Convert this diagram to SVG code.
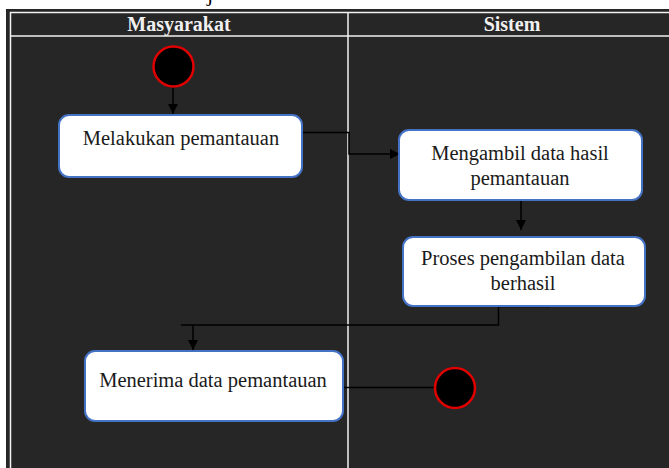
<svg xmlns="http://www.w3.org/2000/svg" width="669" height="468" viewBox="0 0 669 468">
<defs>
<style>
.lane{fill:none;stroke:#f2f2f2;stroke-width:1.5}
.hdr{font-family:"Liberation Serif","Times New Roman",serif;font-weight:bold;font-size:20px;fill:#f0f0f0;text-anchor:middle}
.box{fill:#ffffff;stroke:#4472c4;stroke-width:2}
.lbl{font-family:"Liberation Serif","Times New Roman",serif;font-size:20.5px;fill:#1a1a1a;text-anchor:middle}
.circ{fill:#000000;stroke:#e00000;stroke-width:2.5}
.conn{fill:none;stroke:#000000;stroke-width:1.5}
</style>
<marker id="arr" viewBox="0 0 10 10" refX="10" refY="5" markerWidth="10" markerHeight="10" markerUnits="userSpaceOnUse" orient="auto">
<path d="M0,0 L10,5 L0,10 z" fill="#000000"/>
</marker>
</defs>
<rect x="0" y="0" width="669" height="468" fill="#ffffff"/>
<text x="207" y="1" style="font-family:'Liberation Serif',serif;font-size:22px;fill:#000">j</text>
<rect x="6" y="9" width="663" height="459" fill="#262626"/>
<g id="lanes">
<path class="lane" d="M10.5,468 V12.5 H669"/>
<path class="lane" d="M10.5,36 H669"/>
<path class="lane" d="M348,12.5 V468"/>
<text class="hdr" x="179" y="31">Masyarakat</text>
<text class="hdr" x="512" y="31">Sistem</text>
</g>
<g id="connectors">
<path class="conn" d="M173,87 V114" marker-end="url(#arr)"/>
<path class="conn" d="M302,132.5 H349 V154 H400" marker-end="url(#arr)"/>
<path class="conn" d="M521,200 V230" marker-end="url(#arr)"/>
<path class="conn" d="M550,306.5 H498.5 V325 H181"/>
<path class="conn" d="M193,325 V350" marker-end="url(#arr)"/>
<path class="conn" d="M343,387.5 H435"/>
</g>
<g id="start"><circle class="circ" cx="173.5" cy="66.5" r="20"/></g>
<g id="n1">
<rect class="box" x="59" y="115" width="243" height="62" rx="10"/>
<text class="lbl" x="181" y="145">Melakukan pemantauan</text>
</g>
<g id="n2">
<rect class="box" x="399" y="130" width="243" height="70" rx="10"/>
<text class="lbl" x="520" y="160">Mengambil data hasil</text>
<text class="lbl" x="520" y="185">pemantauan</text>
</g>
<g id="n3">
<rect class="box" x="403" y="237" width="242" height="69" rx="10"/>
<text class="lbl" x="523" y="265">Proses pengambilan data</text>
<text class="lbl" x="523" y="290">berhasil</text>
</g>
<g id="n4">
<rect class="box" x="85" y="351" width="258" height="70" rx="10"/>
<text class="lbl" x="213" y="387">Menerima data pemantauan</text>
</g>
<g id="end"><circle class="circ" cx="455" cy="388" r="20"/></g>
</svg>
